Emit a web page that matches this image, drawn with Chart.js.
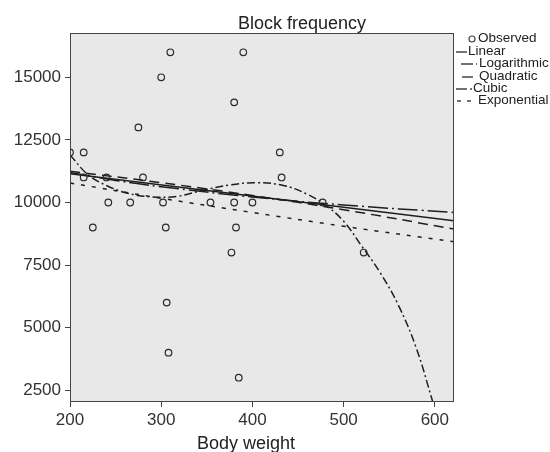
<!DOCTYPE html>
<html>
<head>
<meta charset="utf-8">
<script src="https://cdn.jsdelivr.net/npm/chart.js@4.4.0/dist/chart.umd.min.js"></script>
<style>
  body { margin: 0; background: #fff; }
  #wrap { width: 550px; height: 452px; }
</style>
</head>
<body>
<div id="wrap"><canvas id="chart" width="550" height="452"></canvas></div>
<script>
// observed points
const obsX = [200, 215, 215, 225, 240, 242, 266, 275, 280, 300, 302, 305, 306, 308, 310, 354, 377, 380, 380, 382, 385, 390, 400, 430, 432, 477, 522];
const obsY = [12000, 12000, 11000, 9000, 11000, 10000, 10000, 13000, 11000, 15000, 10000, 9000, 6000, 4000, 16000, 10000, 8000, 14000, 10000, 9000, 3000, 16000, 10000, 12000, 11000, 10000, 8000];

// fitted curves
const linearX = [200, 621];
const linearY = [11150, 9270];
const logX = [200, 250, 300, 400, 500, 621];
const logY = [11200, 10880, 10630, 10220, 9900, 9600];
const quadX = [200, 300, 400, 500, 621];
const quadY = [11250, 10790, 10280, 9710, 8940];
const cubicX = [200, 220, 240, 262, 290, 318, 345, 375, 405, 435, 460, 480, 500, 520, 540, 560, 580, 598];
const cubicY = [11900, 11100, 10680, 10380, 10220, 10250, 10480, 10700, 10790, 10670, 10330, 9900, 9250, 8250, 7200, 5900, 4150, 2000];
const expX = [200, 300, 400, 500, 621];
const expY = [10780, 10170, 9600, 9050, 8430];

const xTicks = [200, 300, 400, 500, 600];
const yTicks = [2500, 5000, 7500, 10000, 12500, 15000];

const pts = (xs, ys) => xs.map((x, i) => ({ x: x, y: ys[i] }));
const ink = '#1e1e1e';
const font = "'Liberation Sans', Arial, sans-serif";

function fitLine(label, xs, ys, dash) {
    return {
        type: 'line',
        label: label,
        data: pts(xs, ys),
        borderColor: ink,
        borderWidth: 1.5,
        borderDash: dash,
        pointRadius: 0,
        fill: false,
        tension: 0.4
    };
}

const legendItems = [
    { text: 'Observed', y: 38, point: true },
    { text: 'Linear', y: 51, dash: [], x0: 456, x1: 467, tx: 468 },
    { text: 'Logarithmic', y: 63, dash: [12, 3, 2, 3], x0: 461, x1: 477, tx: 479 },
    { text: 'Quadratic', y: 76, dash: [], x0: 462, x1: 473, tx: 479 },
    { text: 'Cubic', y: 88, dash: [11, 3, 2, 3], x0: 456, x1: 472, tx: 473 },
    { text: 'Exponential', y: 100, dash: [4, 6], x0: 457, x1: 473, tx: 478 }
];

// fondo y borde del area, titulos y leyenda
const decor = {
    id: 'decor',
    beforeDraw(chart) {
        const { ctx, chartArea: { left, top, width, height } } = chart;
        ctx.save();
        ctx.fillStyle = '#e8e8e8';
        ctx.fillRect(left, top, width, height);
        ctx.restore();
    },
    afterDraw(chart) {
        const { ctx, chartArea: { left, top, width, height } } = chart;
        ctx.save();
        ctx.strokeStyle = '#444';
        ctx.lineWidth = 1;
        ctx.strokeRect(left + 0.5, top + 0.5, width - 1, height - 1);

        ctx.fillStyle = '#222';
        ctx.textAlign = 'center';
        ctx.textBaseline = 'alphabetic';
        ctx.font = '18px ' + font;
        ctx.fillText('Block frequency', 302, 29);
        ctx.fillText('Body weight', 246, 449);

        ctx.font = '13.5px ' + font;
        ctx.textAlign = 'left';
        ctx.textBaseline = 'middle';
        legendItems.forEach(it => {
            if (it.point) {
                ctx.beginPath();
                ctx.lineWidth = 1.2;
                ctx.arc(472, it.y + 1, 3, 0, Math.PI * 2);
                ctx.stroke();
                ctx.fillText(it.text, 478, it.y);
                return;
            }
            ctx.beginPath();
            ctx.lineWidth = 1.5;
            ctx.setLineDash(it.dash);
            ctx.moveTo(it.x0, it.y + 1);
            ctx.lineTo(it.x1, it.y + 1);
            ctx.stroke();
            ctx.setLineDash([]);
            ctx.fillText(it.text, it.tx, it.y);
        });
        ctx.restore();
    }
};

const config = {
    data: {
        datasets: [
            {
                type: 'scatter',
                label: 'Observed',
                data: pts(obsX, obsY),
                pointStyle: 'circle',
                pointRadius: 3.3,
                pointBorderWidth: 1.2,
                pointBackgroundColor: 'rgba(0,0,0,0)',
                pointBorderColor: '#2a2a2a'
            },
            fitLine('Linear', linearX, linearY, []),
            fitLine('Logarithmic', logX, logY, [20, 4, 2, 4]),
            fitLine('Quadratic', quadX, quadY, [10, 6]),
            fitLine('Cubic', cubicX, cubicY, [8, 3, 2, 3]),
            fitLine('Exponential', expX, expY, [4, 7])
        ]
    },
    options: {
        responsive: false,
        animation: false,
        layout: { padding: { left: 0, right: 96, top: 33, bottom: 0 } },
        font: { family: font },
        scales: {
            x: {
                type: 'linear',
                min: 200,
                max: 621,
                afterFit(scale) { scale.height = 50; },
                afterBuildTicks(scale) { scale.ticks = xTicks.map(v => ({ value: v })); },
                grid: { display: true, drawOnChartArea: false, tickLength: 5, color: '#444' },
                border: { display: false },
                ticks: { color: '#333', font: { size: 17, family: font }, padding: 3, maxRotation: 0, callback: v => String(v) }
            },
            y: {
                type: 'linear',
                min: 2030,
                max: 16770,
                afterFit(scale) { scale.width = 70; },
                afterBuildTicks(scale) { scale.ticks = yTicks.map(v => ({ value: v })); },
                grid: { display: true, drawOnChartArea: false, tickLength: 5, color: '#444' },
                border: { display: false },
                ticks: { color: '#333', font: { size: 17, family: font }, padding: 4, callback: v => String(v) }
            }
        },
        plugins: {
            legend: { display: false },
            title: { display: false },
            tooltip: { enabled: false }
        }
    },
    plugins: [decor]
};

const myChart = new Chart(document.getElementById('chart'), config);
</script>
</body>
</html>
